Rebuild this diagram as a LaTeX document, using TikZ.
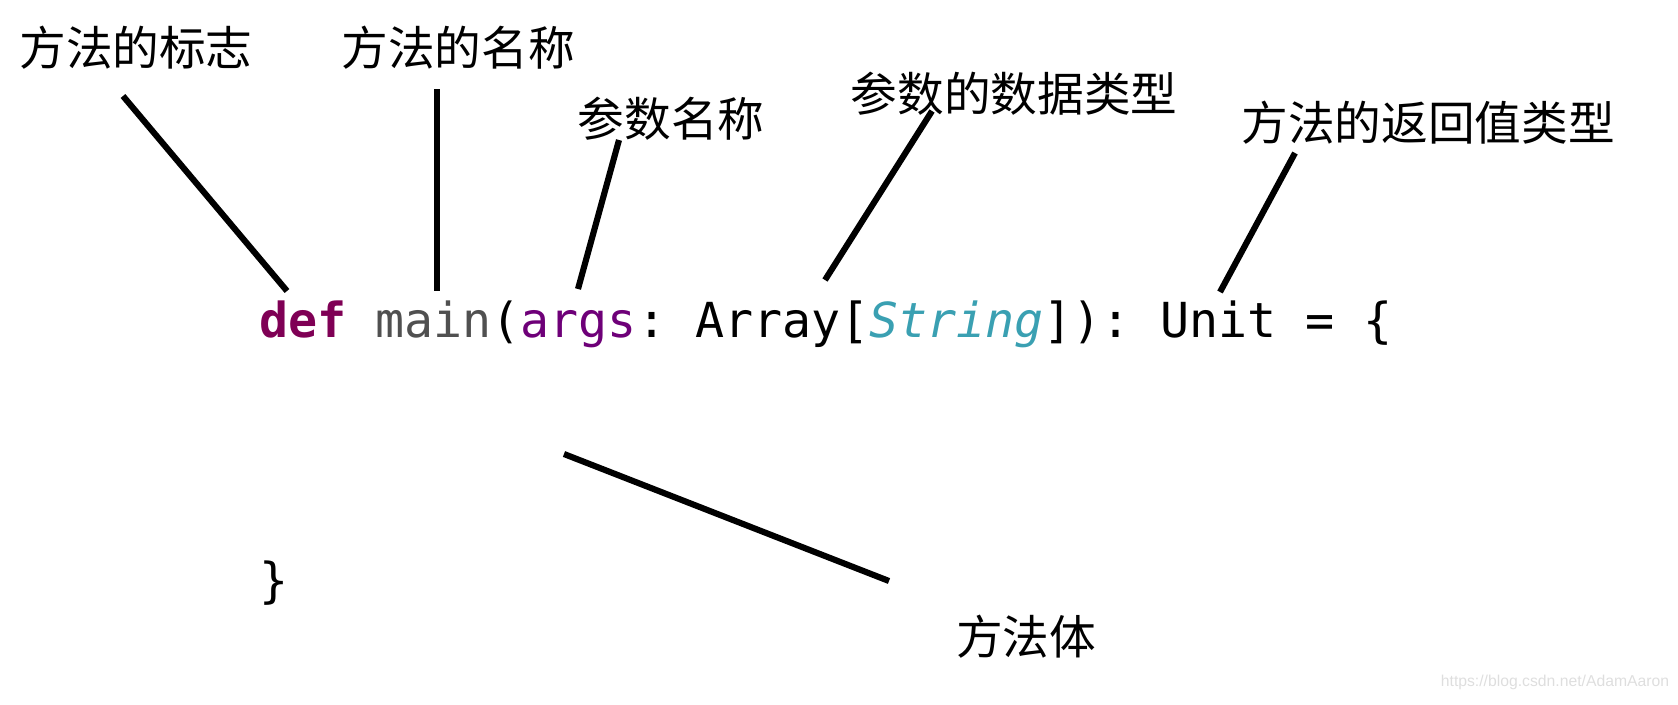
\documentclass[tikz,border=0pt]{standalone}
\usepackage{fontspec}
\setmainfont{Liberation Sans}
\newfontfamily\cjkfont{Noto Sans CJK SC}
\newfontfamily\codefont{DejaVu Sans Mono}
\definecolor{kwpurple}{RGB}{127,0,85}
\definecolor{fungray}{RGB}{80,80,80}
\definecolor{argpurple}{RGB}{110,0,120}
\definecolor{typeteal}{RGB}{58,160,178}
\definecolor{markgray}{RGB}{222,222,222}

\begin{document}
\begin{tikzpicture}[x=0.75pt,y=0.75pt,yscale=-1,xscale=1,
  tag/.style={inner sep=0pt, font=\cjkfont\fontsize{35}{40}\selectfont},
  codeline/.style={inner sep=0pt, anchor=base west, font=\codefont\fontsize{36.2}{40}\selectfont},
  pointer/.style={line width=4.6pt}]
\useasboundingbox (0,0) rectangle (1678,704);

% labels
\node[tag] (flag) at (136,48) {方法的标志};
\node[tag] (name) at (458,48) {方法的名称};
\node[tag] (argname) at (671,119) {参数名称};
\node[tag] (argtype) at (1014,94) {参数的数据类型};
\node[tag] (rettype) at (1428,123) {方法的返回值类型};
\node[tag] (body) at (1026,637) {方法体};

% code
\node[codeline] (head) at (259,337) {\frenchspacing\textcolor{kwpurple}{\bfseries def} \textcolor{fungray}{main}(\textcolor{argpurple}{args}: Array[\textcolor{typeteal}{\itshape String}]): Unit = \{};
\node[codeline] (close) at (259,597) {\}};

\node[inner sep=0pt, text=markgray, font=\fontsize{11.8}{14}\selectfont] (mark) at (1555,682) {https://blog.csdn.net/AdamAaron};

% pointer ends
\coordinate (flagtop) at (123,96);
\coordinate (flagend) at (287,291);
\coordinate (nametop) at (437,89);
\coordinate (nameend) at (437,291);
\coordinate (argnametop) at (619,140);
\coordinate (argnameend) at (578,289);
\coordinate (argtypetop) at (932,111);
\coordinate (argtypeend) at (825,280);
\coordinate (rettypetop) at (1295,153);
\coordinate (rettypeend) at (1220,292);
\coordinate (bodystart) at (564,454);
\coordinate (bodyend) at (889,581);

\draw[pointer] (flagtop) -- (flagend);
\draw[pointer] (nametop) -- (nameend);
\draw[pointer] (argnametop) -- (argnameend);
\draw[pointer] (argtypetop) -- (argtypeend);
\draw[pointer] (rettypetop) -- (rettypeend);
\draw[pointer] (bodystart) -- (bodyend);

\end{tikzpicture}
\end{document}
